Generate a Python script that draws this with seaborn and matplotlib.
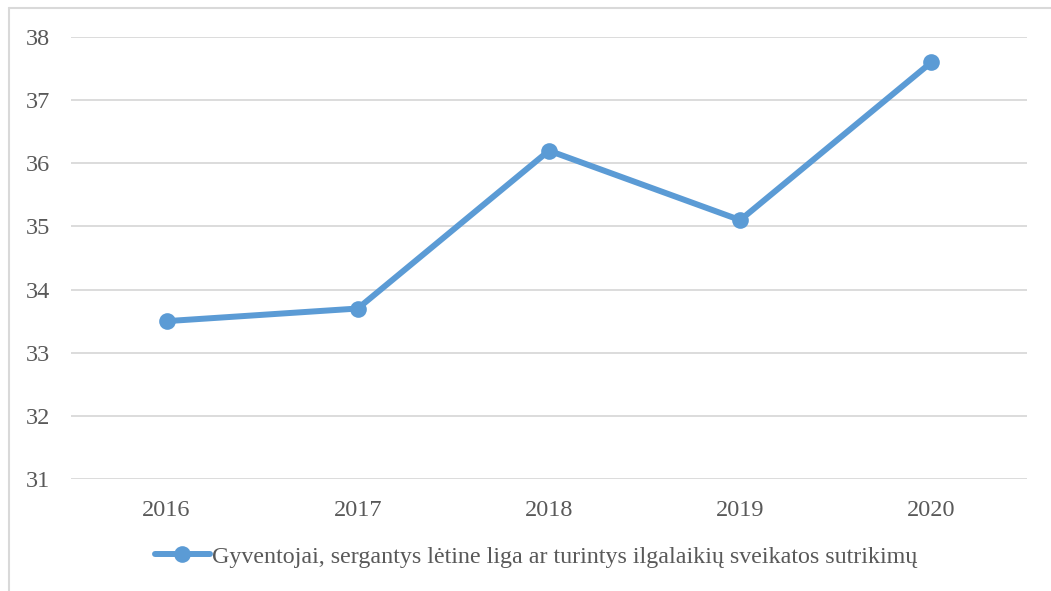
import pandas as pd
import matplotlib
matplotlib.use('Agg')
import matplotlib.pyplot as plt
import seaborn as sns
from matplotlib.lines import Line2D

years = ['2016', '2017', '2018', '2019', '2020']
values = [33.5, 33.7, 36.2, 35.1, 37.6]
series_name = 'Gyventojai, sergantys lėtine liga ar turintys ilgalaikių sveikatos sutrikimų'

df = pd.DataFrame({'Metai': years, 'Reikšmė': values, 'Serija': series_name})

sns.set_theme(style="whitegrid")
plt.rcParams['font.family'] = ['Liberation Serif', 'DejaVu Serif']

fig = plt.figure(figsize=(10.51, 5.91), dpi=100)
ax = fig.add_axes([71 / 1051, 1 - 479 / 591, (1027 - 71) / 1051, (479 - 37) / 591])

blue = '#5B9BD5'
sns.lineplot(data=df, x='Metai', y='Reikšmė', hue='Serija', palette=[blue],
             marker='o', markersize=12, markeredgewidth=0, linewidth=4.3,
             sort=False, ax=ax)

ax.set_ylim(31, 38)
ax.set_xlim(-0.5, 4.5)
ax.set_yticks(range(31, 39))
ax.set_xlabel('')
ax.set_ylabel('')
ax.grid(axis='y', color='#D9D9D9', linewidth=1.3)
ax.grid(axis='x', visible=False)
for s in ax.spines.values():
    s.set_visible(False)
ax.tick_params(axis='both', colors='#595959', labelsize=17.5, length=0)
ax.tick_params(axis='y', pad=15)
ax.tick_params(axis='x', pad=15)

ax.get_legend().remove()
handle = Line2D([], [], color=blue, linewidth=4.3, marker='o', markersize=12,
                markeredgewidth=0)
fig.legend([handle], [series_name], loc='center', bbox_to_anchor=(0.51, 0.058),
           frameon=False, fontsize=17.3, labelcolor='#595959', handlelength=2.3,
           handletextpad=0.1)

# chart border (left and top edges visible)
fig.add_artist(Line2D([9 / 1051, 9 / 1051], [0, 1 - 8 / 591], transform=fig.transFigure,
                      color='#D9D9D9', linewidth=1.5))
fig.add_artist(Line2D([9 / 1051, 1], [1 - 8 / 591, 1 - 8 / 591], transform=fig.transFigure,
                      color='#D9D9D9', linewidth=1.5))

fig.savefig('out.png', dpi=100)
